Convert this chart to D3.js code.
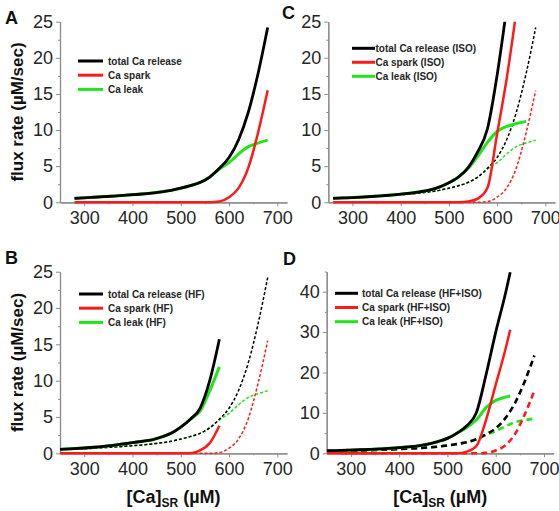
<!DOCTYPE html>
<html><head><meta charset="utf-8">
<script src="https://cdn.jsdelivr.net/npm/d3@7"></script>
<style>body{margin:0;background:#fff}svg{display:block}text{font-family:Arial,"Liberation Sans",sans-serif}</style>
</head><body><svg id="c" width="559" height="511"></svg>
<script>
// ---------- data ----------
const xTicks = [300,400,500,600,700];
const xMinor = [350,450,550,650];
const yTicks25 = [0,5,10,15,20,25];
const yTicks45 = [0,10,20,30,40];

// control
const xCtrl = [280,300,320,340,360,380,400,420,440,460,480,500,520,540,560,580,600,620,640,660,680];
const totalCtrl = [0.55,0.62,0.7,0.78,0.86,0.95,1.05,1.15,1.28,1.45,1.65,1.95,2.3,2.75,3.5,4.7,6.2,8.7,12.5,17.8,24.2];
const sparkCtrl = [0,0,0,0,0,0,0,0,0,0,0,0,0,0,0,0.1,0.7,2.0,4.8,9.6,15.5];
const leakCtrl  = [0.55,0.62,0.7,0.78,0.86,0.95,1.05,1.15,1.28,1.45,1.65,1.95,2.3,2.75,3.5,4.6,5.5,6.7,7.7,8.2,8.6];

// ISO
const xIso = [260,280,300,320,340,360,380,400,420,440,460,480,500,520,540,560,580,600,620,640,660];
const totalIso = [0.55,0.6,0.65,0.72,0.8,0.9,1.0,1.12,1.27,1.45,1.7,2.1,2.7,3.5,4.8,7.0,10.2,17.6,27,null,null];
const sparkIso = [0,0,0,0,0,0,0,0,0,0,0,0,0,0,0.1,0.5,2.0,9.5,17.2,26.5,null];
const leakIso  = [0.55,0.6,0.65,0.72,0.8,0.9,1.0,1.12,1.27,1.45,1.7,2.1,2.7,3.5,4.7,6.4,8.3,9.8,10.5,10.9,11.2];

// HF
const xHf = [250,280,300,320,340,360,380,400,420,440,460,480,500,520,540,560,580];
const totalHf = [0.55,0.65,0.73,0.83,0.95,1.1,1.28,1.47,1.65,1.85,2.25,2.75,3.6,4.7,6.2,10.0,15.7];
const sparkHf = [0,0,0,0,0,0,0,0,0,0,0,0,0,0,0.4,1.4,3.8];
const leakHf  = [0.55,0.65,0.73,0.83,0.95,1.1,1.28,1.47,1.65,1.85,2.25,2.75,3.6,4.7,5.8,8.6,11.9];

// HF+ISO
const xHfIso = [250,280,300,320,340,360,380,400,420,440,460,480,500,520,540,560,580,600,620,630];
const totalHfIso = [0.66,0.72,0.8,0.88,0.97,1.08,1.22,1.4,1.6,1.85,2.3,2.9,3.7,5.0,6.8,10.1,19.5,30,39.5,44.8];
const sparkHfIso = [0,0,0,0,0,0,0,0,0,0,0,0,0,0,0.4,1.8,8.3,17,25.7,30.6];
const leakHfIso  = [0.66,0.72,0.8,0.88,0.97,1.08,1.22,1.4,1.6,1.85,2.3,2.9,3.7,5.0,6.4,8.3,11.3,13.1,13.9,14.2];

const legendA = ["total Ca release","Ca spark","Ca leak"];
const legendB = ["total Ca release (HF)","Ca spark (HF)","Ca leak (HF)"];
const legendC = ["total Ca release (ISO)","Ca spark (ISO)","Ca leak (ISO)"];
const legendD = ["total Ca release (HF+ISO)","Ca spark (HF+ISO)","Ca leak (HF+ISO)"];

// ---------- drawing ----------
const BLACK="#000", RED="#ff1a1a", GREEN="#1ee61a", AXIS="#8c8c8c", TXT="#262626";
const svg = d3.select("#c");
const zip = (xs, ys) => xs.map((x,i)=>({x, y: ys[i]}));

function panel(cfg){
  const x = d3.scaleLinear().domain([250,720]).range(cfg.xr);
  const y = d3.scaleLinear().domain([0,cfg.ymax]).range(cfg.yr);
  const g = svg.append("g");
  const id = "clip"+cfg.letter;
  svg.append("clipPath").attr("id",id).append("rect")
    .attr("x",cfg.xr[0]).attr("y",cfg.yr[1]).attr("width",cfg.xr[1]-cfg.xr[0]+6).attr("height",cfg.yr[0]-cfg.yr[1]+2);

  // axes
  const ax = g.append("g").attr("transform",`translate(0,${cfg.yr[0]})`)
    .call(d3.axisBottom(x).tickValues(xTicks).tickSize(4).tickPadding(5).tickSizeOuter(0));
  g.append("g").attr("transform",`translate(0,${cfg.yr[0]})`)
    .call(d3.axisBottom(x).tickValues(xMinor).tickSize(2).tickFormat("").tickSizeOuter(0));
  const ay = g.append("g").attr("transform",`translate(${cfg.xr[0]},0)`)
    .call(d3.axisLeft(y).tickValues(cfg.yt).tickSize(4).tickPadding(3).tickSizeOuter(0));
  g.append("g").attr("transform",`translate(${cfg.xr[0]},0)`)
    .call(d3.axisLeft(y).tickValues(cfg.ym).tickSize(2).tickFormat("").tickSizeOuter(0));
  g.selectAll(".domain").attr("stroke",AXIS).attr("stroke-width",1.2);
  g.selectAll(".tick line").attr("stroke",AXIS);
  g.selectAll(".tick text").attr("fill",TXT).style("font-size","18px");

  const line = d3.line().defined(d=>d.y!=null).x(d=>x(d.x)).y(d=>y(d.y)).curve(d3.curveMonotoneX);
  const plot = g.append("g").attr("clip-path",`url(#${id})`);
  (cfg.dashed||[]).forEach(s=>{
    plot.append("path").datum(zip(s.xs,s.ys)).attr("d",line).attr("fill","none")
      .attr("stroke",s.color).attr("stroke-width",cfg.dashW).attr("stroke-dasharray",cfg.dashA);
  });
  cfg.solid.forEach(s=>{
    plot.append("path").datum(zip(s.xs,s.ys)).attr("d",line).attr("fill","none")
      .attr("stroke",s.color).attr("stroke-width",s.w).attr("stroke-linejoin","round");
  });

  // legend
  const cols=[BLACK,RED,GREEN];
  cfg.legend.forEach((t,i)=>{
    const yy = cfg.lg.y + i*cfg.lg.dy;
    g.append("line").attr("x1",cfg.lg.x1).attr("x2",cfg.lg.x2).attr("y1",yy).attr("y2",yy)
      .attr("stroke",cols[i]).attr("stroke-width",3);
    g.append("text").attr("x",cfg.lg.tx).attr("y",yy+3.6).text(t)
      .attr("fill",TXT).style("font-size","10px").style("font-weight","bold");
  });

  // letter
  g.append("text").attr("x",cfg.lx).attr("y",cfg.ly).text(cfg.letter)
    .style("font-size","18px").style("font-weight","bold").attr("fill","#111");

  if(cfg.ytitle){
    g.append("text").attr("transform",`translate(23,${(cfg.yr[0]+cfg.yr[1])/2}) rotate(-90)`)
      .attr("text-anchor","middle").text("flux rate (µM/sec)")
      .style("font-size","17px").style("font-weight","bold").attr("fill","#111");
  }
  if(cfg.xtitle){
    const t = g.append("text").attr("x",(cfg.xr[0]+cfg.xr[1])/2).attr("y",503)
      .attr("text-anchor","middle").style("font-size","18px").style("font-weight","bold").attr("fill","#111");
    t.append("tspan").text("[Ca]");
    t.append("tspan").text("SR").attr("dy",4).style("font-size","12px");
    t.append("tspan").text(" (µM)").attr("dy",-4);
  }
}

const ctrlDashed = [
  {xs:xCtrl, ys:leakCtrl, color:GREEN},
  {xs:xCtrl, ys:sparkCtrl, color:RED},
  {xs:xCtrl, ys:totalCtrl, color:BLACK}
];

panel({letter:"A", lx:5, ly:24, xr:[60,287], yr:[202.3,21.7], ymax:25, yt:yTicks25, ym:[2.5,7.5,12.5,17.5,22.5],
  solid:[{xs:xCtrl,ys:leakCtrl,color:GREEN,w:3},{xs:xCtrl,ys:sparkCtrl,color:RED,w:2.5},{xs:xCtrl,ys:totalCtrl,color:BLACK,w:2.8}],
  legend:legendA, lg:{x1:78,x2:103,tx:108,y:61,dy:14.2}, ytitle:true});

panel({letter:"B", lx:5, ly:264, xr:[60,287], yr:[453.3,271.7], ymax:25, yt:yTicks25, ym:[2.5,7.5,12.5,17.5,22.5],
  dashed:ctrlDashed, dashW:1.5, dashA:"3,2",
  solid:[{xs:xHf,ys:leakHf,color:GREEN,w:3},{xs:xHf,ys:sparkHf,color:RED,w:2.5},{xs:xHf,ys:totalHf,color:BLACK,w:2.8}],
  legend:legendB, lg:{x1:79,x2:103,tx:108,y:294,dy:14.2}, ytitle:true, xtitle:true});

panel({letter:"C", lx:282, ly:19, xr:[328.3,555], yr:[202.3,21.7], ymax:25, yt:yTicks25, ym:[2.5,7.5,12.5,17.5,22.5],
  dashed:ctrlDashed, dashW:1.5, dashA:"3,2",
  solid:[{xs:xIso,ys:leakIso,color:GREEN,w:3},{xs:xIso,ys:sparkIso,color:RED,w:2.5},{xs:xIso,ys:totalIso,color:BLACK,w:2.8}],
  legend:legendC, lg:{x1:352,x2:375,tx:375.5,y:48.3,dy:14}});

panel({letter:"D", lx:283, ly:265, xr:[326.7,553.7], yr:[453.3,271.5], ymax:45, yt:yTicks45, ym:[5,15,25,35,45],
  dashed:ctrlDashed, dashW:2.6, dashA:"6,4",
  solid:[{xs:xHfIso,ys:leakHfIso,color:GREEN,w:3},{xs:xHfIso,ys:sparkHfIso,color:RED,w:2.5},{xs:xHfIso,ys:totalHfIso,color:BLACK,w:2.8}],
  legend:legendD, lg:{x1:335,x2:358,tx:362,y:293.3,dy:14.2}, xtitle:true});
</script></body></html>
